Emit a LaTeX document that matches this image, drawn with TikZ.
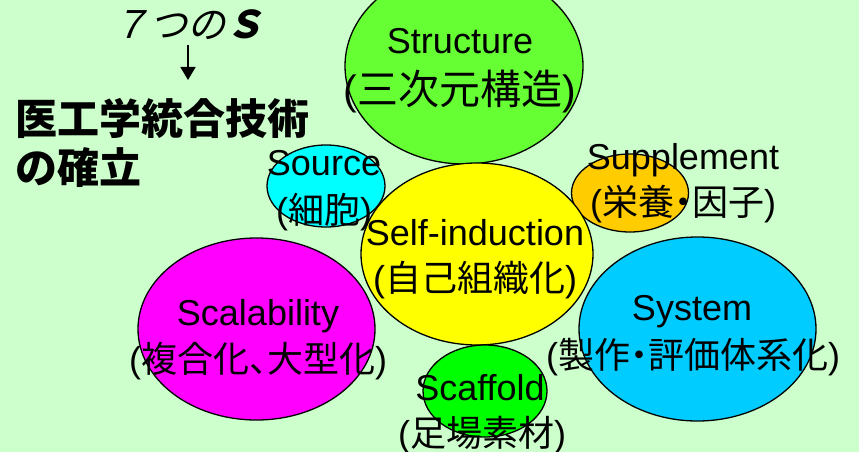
\documentclass[tikz,border=0pt]{standalone}
\usepackage{fontspec}
\setmainfont{Liberation Sans}
\newfontfamily\cjk{Noto Sans CJK JP}
\newfontfamily\cjkit[FakeSlant=0.25]{Noto Sans CJK JP}
\usetikzlibrary{shapes.geometric,arrows.meta}
\definecolor{bgc}{HTML}{CCFFCC}
\definecolor{cStruct}{HTML}{66FF33}
\definecolor{cSource}{HTML}{00FFFF}
\definecolor{cSuppl}{HTML}{FFCC00}
\definecolor{cSelf}{HTML}{FFFF00}
\definecolor{cScal}{HTML}{FF00FF}
\definecolor{cSys}{HTML}{00CCFF}
\definecolor{cScaf}{HTML}{00FF00}
\newcommand\jp[1]{({\cjk #1})}
\newcommand\nkg{\makebox[0.5em][c]{\cjk ・}}
\newcommand\tnt{\makebox[0.5em][l]{\cjk 、}}
\tikzset{
  blob/.style={ellipse, draw=black, line width=1.3pt, inner sep=0pt},
  lbl/.style={anchor=base, inner sep=0pt, font=\fontsize{36}{40}\selectfont},
}
\begin{document}
\begin{tikzpicture}[x=1pt,y=-1pt]
\fill[bgc] (0,0) rectangle (859,452);
\useasboundingbox (0,0) rectangle (859,452);
% ellipses
\node[blob, fill=cStruct, minimum width=238pt, minimum height=196pt] (struct) at (464,66) {};
\node[blob, fill=cSource, minimum width=118pt, minimum height=82pt] (source) at (326,186) {};
\node[blob, fill=cSuppl, minimum width=117pt, minimum height=78pt] (suppl) at (630,193) {};
\node[blob, fill=cSelf, minimum width=232pt, minimum height=182pt] (self) at (477,254) {};
\node[blob, fill=cScal, minimum width=237pt, minimum height=182pt] (scal) at (256.5,329) {};
\node[blob, fill=cSys, minimum width=237pt, minimum height=184pt] (sys) at (697.5,329) {};
\node[blob, fill=cScaf, minimum width=124pt, minimum height=92pt] (scaf) at (485,391) {};
% labels
\node[lbl] (tStruct) at (460,53) {Structure};
\node[lbl, font=\fontsize{41}{45}\selectfont] (jStruct) at (460,104) {\jp{三次元構造}};
\node[lbl] (tSource) at (324,175) {Source};
\node[lbl] (jSource) at (324,223) {\jp{細胞}};
\node[lbl] (tSuppl) at (683,169) {Supplement};
\node[lbl] (jSuppl) at (683,215) {({\cjk 栄養}\nkg{\cjk 因子})};
\node[lbl] (tSelf) at (475,245) {Self-induction};
\node[lbl] (jSelf) at (475,291) {\jp{自己組織化}};
\node[lbl] (tScal) at (258,325) {Scalability};
\node[lbl] (jScal) at (258,372) {({\cjk 複合化}\tnt{\cjk 大型化})};
\node[lbl] (tSys) at (692,320) {System};
\node[lbl] (jSys) at (693,368) {({\cjk 製作}\nkg{\cjk 評価体系化})};
\node[lbl] (tScaf) at (480,400) {Scaffold};
\node[lbl] (jScaf) at (482,446) {\jp{足場素材}};
% heading
\node[lbl, font=\fontsize{38}{42}\cjkit] (seven) at (187,38) {７つの\textbf{Ｓ}};
\node[anchor=base west, inner sep=0pt, font=\fontsize{42}{46}\cjk\bfseries] (head1) at (15,134) {医工学統合技術};
\node[anchor=base west, inner sep=0pt, font=\fontsize{42}{46}\cjk\bfseries] (head2) at (15,183) {の確立};
\coordinate (arrS) at (188,45);
\coordinate (arrE) at (188,80);
\draw[line width=1.5pt, -{Triangle[width=15pt,length=13pt]}] (arrS) -- (arrE);
\end{tikzpicture}
\end{document}
